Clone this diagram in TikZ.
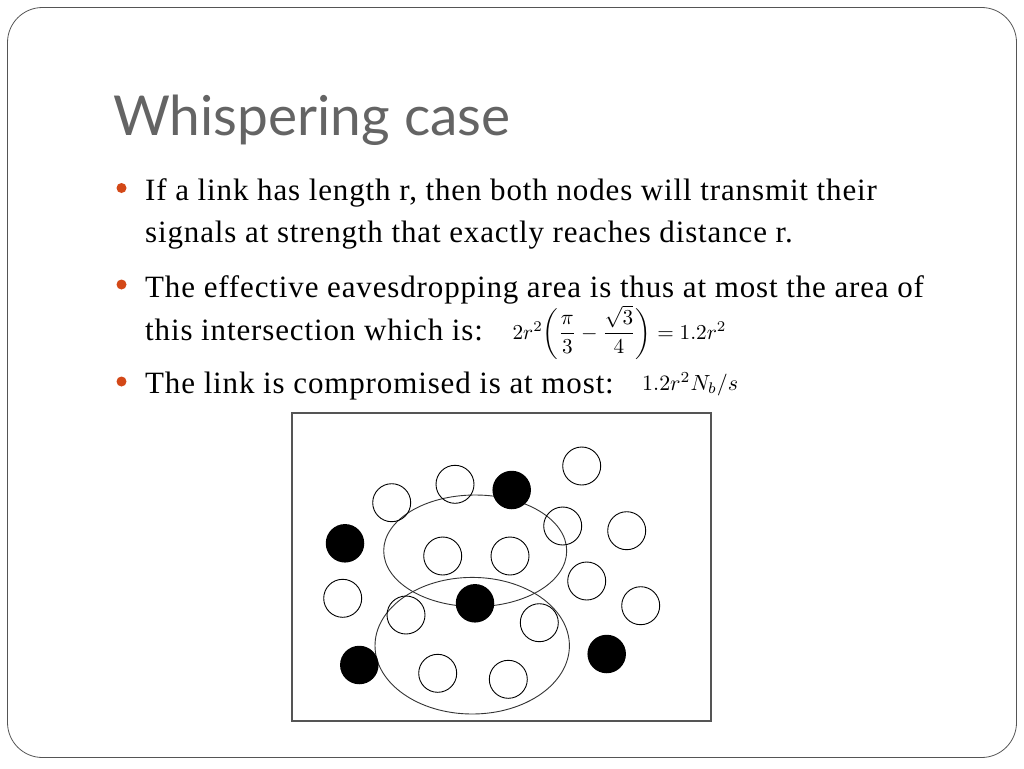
\documentclass[tikz,border=0pt]{standalone}
\usepackage{amsmath}
\usepackage{graphicx}
\usepackage{fontspec}
\setmainfont{Liberation Serif}
\newfontfamily\bodyfont[LetterSpace=2.8]{Liberation Serif}
\newfontfamily\titlefont{Lato}
\definecolor{bulletc}{RGB}{211,72,23}
\definecolor{titlec}{RGB}{100,100,100}
\definecolor{framec}{RGB}{85,85,85}
\begin{document}
\begin{tikzpicture}[x=1pt,y=-1pt,
  bodytext/.style={anchor=base west, inner sep=0pt, font=\bodyfont\fontsize{31}{31}\selectfont, text=black},
  bulletdot/.style={circle, fill=bulletc, minimum size=10pt, inner sep=0pt},
  opennode/.style={circle, draw=black, line width=0.9pt, minimum size=38pt, inner sep=0pt},
  fullnode/.style={circle, fill=black, minimum size=38.5pt, inner sep=0pt},
  rangeline/.style={draw=black!80, line width=0.9pt},
]
\fill[white] (0,0) rectangle (1024,768);
\useasboundingbox (0,0) rectangle (1024,768);
\draw[rounded corners=35pt, draw=framec, line width=0.8pt] (7.5,7.5) rectangle (1016.5,757.5);

\node[anchor=base west, inner sep=0pt, text=titlec, font=\titlefont\fontsize{55}{55}\selectfont] (title) at (113,135) {Whispering case};

\node[bulletdot] (b1) at (121.5,188) {};
\node[bulletdot] (b2) at (121.5,284.5) {};
\node[bulletdot] (b3) at (121.5,381.5) {};

\node[bodytext] (l1) at (145,200) {If a link has length r, then both nodes will transmit their};
\node[bodytext] (l2) at (145,242) {signals at strength that exactly reaches distance r.};
\node[bodytext] (l3) at (145,297) {The effective eavesdropping area is thus at most the area of};
\node[bodytext] (l4) at (145,340) {this intersection which is:};
\node[bodytext] (l5) at (145,393) {The link is compromised is at most:};

\node[inner sep=0pt, text=black, anchor=center] (f1) at (619.5,332.5)
  {\resizebox{214pt}{!}{$2r^2\biggl(\dfrac{\pi}{3}-\dfrac{\sqrt{3}}{4}\biggr)=1.2r^2$}};
\node[inner sep=0pt, text=black, anchor=base west] (f2) at (642,390)
  {\resizebox{96pt}{!}{$1.2r^2N_b/s$}};

\node[draw=framec, line width=1.2pt, minimum width=419pt, minimum height=308pt, inner sep=0pt] (frame) at (501.5,567) {};

\draw[rangeline] (475.2,550.8) ellipse [x radius=91.5pt, y radius=55.8pt];
\draw[rangeline] (472.2,645.7) ellipse [x radius=97.2pt, y radius=68.3pt];

\node[opennode] (o1) at (581.7,466) {};
\node[opennode] (o2) at (455,484.3) {};
\node[opennode] (o3) at (391.7,502.7) {};
\node[opennode] (o4) at (562.7,526) {};
\node[opennode] (o5) at (626.7,530.7) {};
\node[opennode] (o6) at (442.7,556) {};
\node[opennode] (o7) at (510,556) {};
\node[opennode] (o8) at (586.7,581) {};
\node[opennode] (o9) at (342.7,598.3) {};
\node[opennode] (o10) at (406,615) {};
\node[opennode] (o11) at (539.3,622.7) {};
\node[opennode] (o12) at (640.7,605.7) {};
\node[opennode] (o13) at (437.7,673.3) {};
\node[opennode] (o14) at (508.3,679.3) {};

\node[fullnode] (e1) at (511.7,490) {};
\node[fullnode] (e2) at (345,543.3) {};
\node[fullnode] (e3) at (475,603.3) {};
\node[fullnode] (e4) at (359.3,665) {};
\node[fullnode] (e5) at (606.7,654) {};
\end{tikzpicture}
\end{document}
